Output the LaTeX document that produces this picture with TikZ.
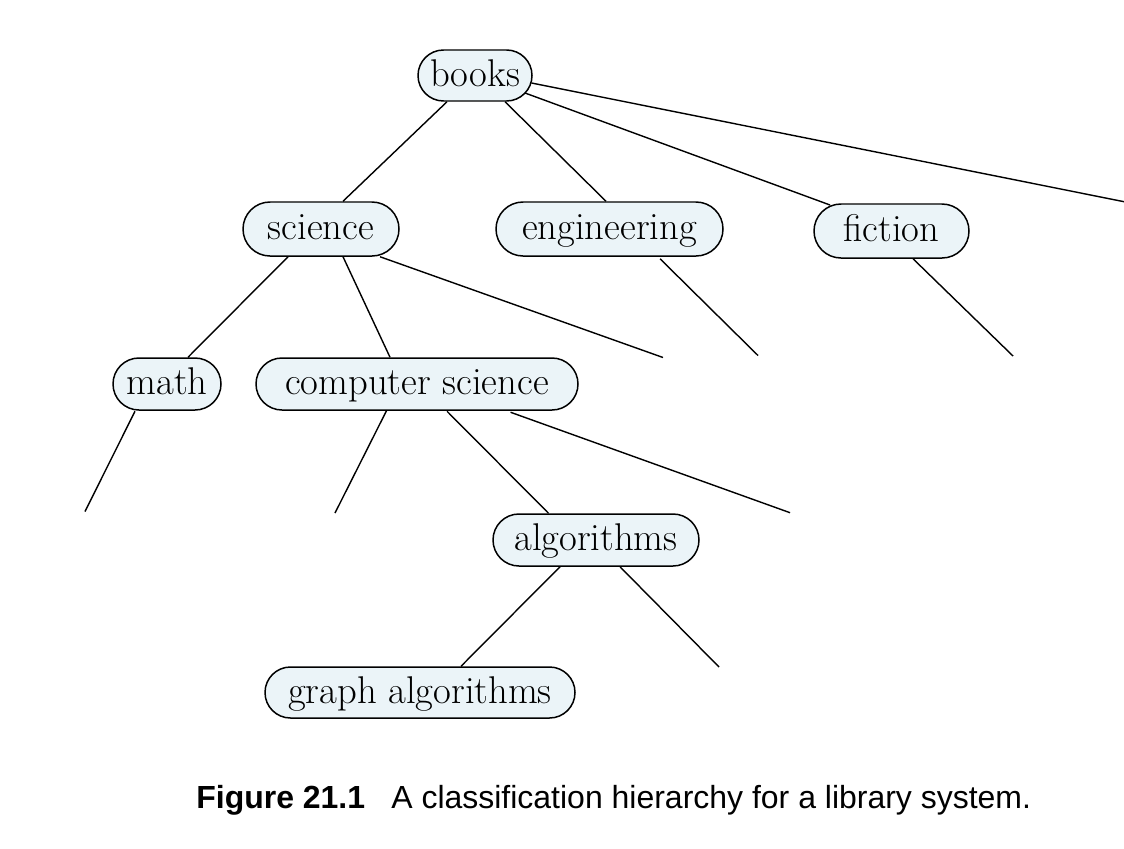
\documentclass[tikz,border=0pt]{standalone}
\usepackage{fontspec}
\newfontfamily\capfont{Liberation Sans}
\usetikzlibrary{shapes.misc,calc}
\definecolor{nodefill}{HTML}{EBF4F8}
\begin{document}
\begin{tikzpicture}[x=0.02cm,y=-0.02cm,
  cls/.style={rounded rectangle, draw=black, line width=0.85pt, fill=nodefill,
    inner sep=0pt, text height=16.5pt, text depth=4pt, font=\fontsize{22}{26}\selectfont},
  edge/.style={line width=0.8pt, black},
  captxt/.style={anchor=base west, inner sep=0pt, font=\capfont\fontsize{18.2}{21}\selectfont}]
\useasboundingbox (0,0) rectangle (1124,848);
% nodes
\node[cls, minimum width=114*0.02cm, minimum height=51*0.02cm] (books) at (475,75.5) {books};
\node[cls, minimum width=156*0.02cm, minimum height=54*0.02cm] (science) at (321,229) {science};
\node[cls, minimum width=227*0.02cm, minimum height=54*0.02cm] (engineering) at (609.5,229) {engineering};
\node[cls, minimum width=155*0.02cm, minimum height=54*0.02cm] (fiction) at (891.5,231) {fiction};
\node[cls, minimum width=108*0.02cm, minimum height=52*0.02cm] (math) at (167,384) {math};
\node[cls, minimum width=322*0.02cm, minimum height=52*0.02cm] (cs) at (417,384) {computer science};
\node[cls, minimum width=206*0.02cm, minimum height=52*0.02cm] (alg) at (596,540) {algorithms};
\node[cls, minimum width=310*0.02cm, minimum height=51*0.02cm] (galg) at (420,692.5) {graph algorithms};
% free ends
\coordinate (eBooks) at (1124,201.7);
\coordinate (eSci) at (663,357.5);
\coordinate (eEng) at (758,355.5);
\coordinate (eFic) at (1013,356);
\coordinate (eMath) at (85,511.5);
\coordinate (eCs1) at (335,513);
\coordinate (eCs2) at (790,512.7);
\coordinate (eAlg) at (719,667);
% connectors
\draw[edge] ($(books.south)+(-28,0)$) -- ($(science.north)+(22,0)$);
\draw[edge] ($(books.south)+(30,0)$) -- ($(engineering.north)+(-3.5,0)$);
\draw[edge] ($(books.center)+(50,17.5)$) -- ($(fiction.center)+(-61.5,-26)$);
\draw[edge] ($(books.center)+(56.5,7.5)$) -- (eBooks);
\draw[edge] ($(science.south)+(-33,0)$) -- ($(math.north)+(21,0)$);
\draw[edge] ($(science.south)+(22,0)$) -- ($(cs.north)+(-27,0)$);
\draw[edge] ($(science.south)+(59,0)$) -- (eSci);
\draw[edge] ($(engineering.south)+(50.5,2)$) -- (eEng);
\draw[edge] ($(fiction.south)+(21.5,0)$) -- (eFic);
\draw[edge] ($(math.south)+(-32,0.5)$) -- (eMath);
\draw[edge] ($(cs.south)+(-30.5,0)$) -- (eCs1);
\draw[edge] ($(cs.south)+(30,0.5)$) -- ($(alg.north)+(-47.5,0)$);
\draw[edge] ($(cs.south)+(93.5,1.5)$) -- (eCs2);
\draw[edge] ($(alg.south)+(-36,0)$) -- ($(galg.north)+(41,0)$);
\draw[edge] ($(alg.south)+(24,0)$) -- (eAlg);
% caption
\node[captxt] (capnum) at (196,808) {\bfseries Figure 21.1};
\node[captxt] (captext) at (391,808) {A classification hierarchy for a library system.};
\end{tikzpicture}
\end{document}
